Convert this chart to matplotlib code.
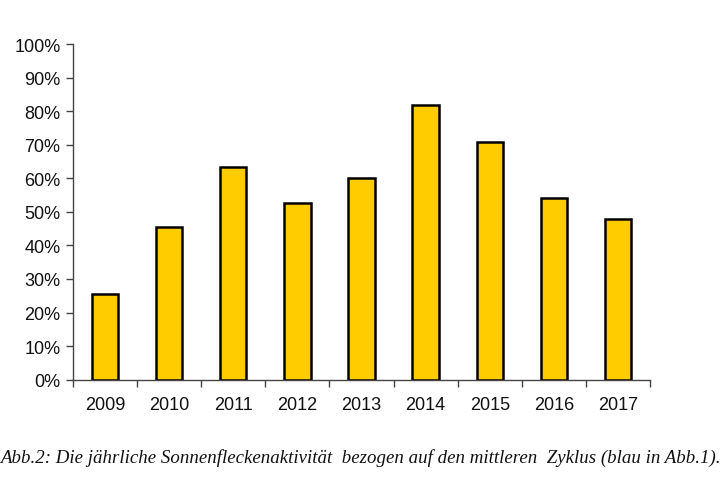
import numpy as np
from matplotlib import pyplot as plt
from matplotlib.ticker import FixedLocator

years = ['2009', '2010', '2011', '2012', '2013', '2014', '2015', '2016', '2017']
activity = [25.4, 45.5, 63.4, 52.6, 60.0, 81.8, 70.7, 54.0, 47.9]
ytick_vals = [0, 10, 20, 30, 40, 50, 60, 70, 80, 90, 100]
caption = ('Abb.2: Die jährliche Sonnenfleckenaktivität  bezogen auf den '
           'mittleren  Zyklus (blau in Abb.1).')

fig = plt.figure(figsize=(7.21, 4.89), dpi=100)
ax = fig.add_axes([73/721, 1 - 380.7/489, 577/721, 335.7/489])

x = np.arange(len(years))
ax.bar(x, activity, 0.41, color='#FFCC00', edgecolor='black', linewidth=1.8)

ax.set_xlim(-0.5, len(years) - 0.5)
ax.set_ylim(0, 100)
ax.set_yticks(ytick_vals)
ax.set_yticklabels(['%d%%' % v for v in ytick_vals])
ax.set_xticks(x)
ax.set_xticklabels(years)
ax.xaxis.set_minor_locator(FixedLocator(np.arange(len(years) + 1) - 0.5))

for s in ['top', 'right']:
  ax.spines[s].set_visible(False)
for s in ['left', 'bottom']:
  ax.spines[s].set_color('#444444')
  ax.spines[s].set_linewidth(1.0)

ax.tick_params(axis='y', direction='out', length=5, width=1, color='#444444',
               labelsize=13, pad=4)
ax.tick_params(axis='x', which='major', length=0, labelsize=13, pad=12)
ax.tick_params(axis='x', which='minor', direction='out', length=5, width=1,
               color='#444444')
for lab in ax.get_xticklabels() + ax.get_yticklabels():
  lab.set_fontfamily('Liberation Sans')
  lab.set_color('#111111')

fig.text(0.5 / 721, 1 - 458/489, caption, fontsize=13.6,
         family='Liberation Serif', style='italic', ha='left', va='center',
         color='#111111')

fig.savefig('out.png', dpi=100)
